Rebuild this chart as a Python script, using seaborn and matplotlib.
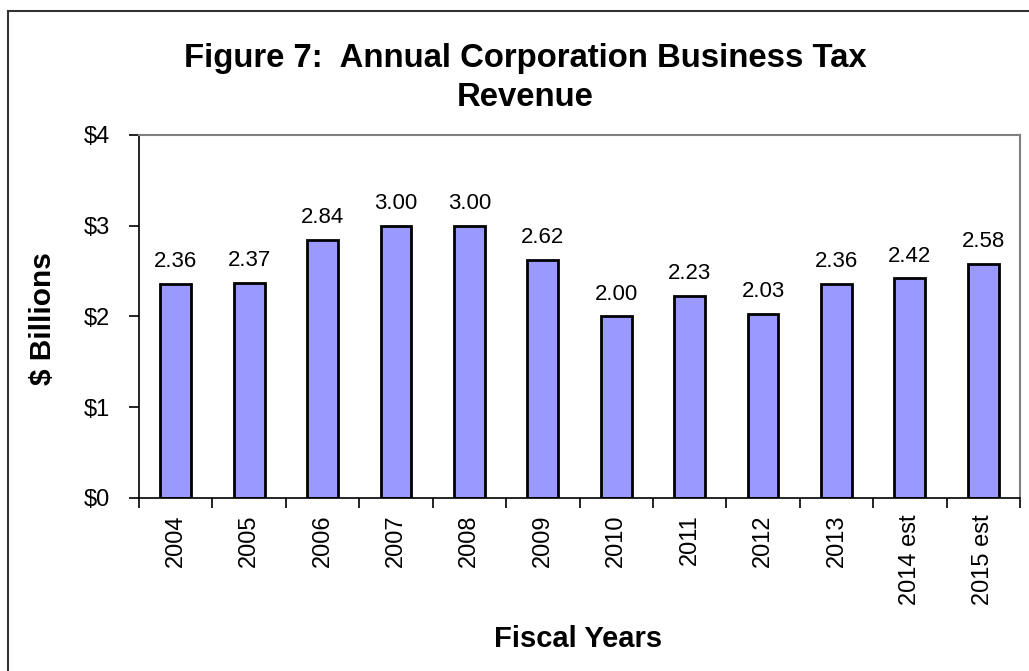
import matplotlib
matplotlib.use("Agg")
import matplotlib.pyplot as plt
from matplotlib.patches import Rectangle
from matplotlib.ticker import FixedLocator
import pandas as pd
import seaborn as sns

years = ["2004", "2005", "2006", "2007", "2008", "2009", "2010",
         "2011", "2012", "2013", "2014 est", "2015 est"]
revenue = [2.36, 2.37, 2.84, 3.00, 3.00, 2.62, 2.00, 2.23, 2.03, 2.36, 2.42, 2.58]
y_ticks = [0, 1, 2, 3, 4]
y_tick_labels = ["$0", "$1", "$2", "$3", "$4"]

sns.set_theme(style="white")
plt.rcParams["font.family"] = ["Liberation Sans", "DejaVu Sans"]
plt.rcParams.update({"text.color": "black", "axes.labelcolor": "black",
                     "xtick.color": "black", "ytick.color": "black"})

df = pd.DataFrame({"year": years, "revenue": revenue})

W, H = 1029, 671
fig = plt.figure(figsize=(W / 100, H / 100), dpi=100)
fig.patch.set_facecolor("white")
ax = fig.add_axes([139 / W, 1 - 498 / H, (1020 - 139) / W, (498 - 135) / H])

sns.barplot(data=df, x="year", y="revenue", color="#9999FF", saturation=1,
            edgecolor="black", linewidth=2, width=0.42, ax=ax)

for bar, v in zip(ax.patches, revenue):
    ax.annotate(f"{v:.2f}", (bar.get_x() + bar.get_width() / 2, v),
                xytext=(0, 8.5), textcoords="offset points",
                ha="center", va="bottom", fontsize=16, color="black")

ax.set_ylim(0, 4)
ax.set_xlim(-0.5, len(years) - 0.5)
ax.set_yticks(y_ticks)
ax.set_yticklabels(y_tick_labels, fontsize=17)
ax.set_xticks(range(len(years)))
ax.set_xticklabels(years, rotation=90, fontsize=17)
ax.xaxis.set_minor_locator(FixedLocator([i - 0.5 for i in range(len(years) + 1)]))
ax.tick_params(axis="x", which="major", length=0, pad=12, colors="black")
ax.tick_params(axis="x", which="minor", length=7, width=1.2, color="black",
               direction="out", bottom=True)
ax.tick_params(axis="y", which="major", length=7, width=1.2, color="black",
               direction="out", left=True, pad=14, labelcolor="black")

ax.set_xlabel("")
ax.set_ylabel("")
for side in ("left", "bottom"):
    ax.spines[side].set_color("black")
    ax.spines[side].set_linewidth(1.2)
for side in ("top", "right"):
    ax.spines[side].set_color("#808080")
    ax.spines[side].set_linewidth(1.5)
ax.grid(False)

fig.text(525 / W, 1 - 58 / H, "Figure 7:  Annual Corporation Business Tax",
         ha="center", va="center", fontsize=23.7, fontweight="bold")
fig.text(525 / W, 1 - 97 / H, "Revenue",
         ha="center", va="center", fontsize=23.7, fontweight="bold")
fig.text(43 / W, 1 - 319 / H, "$ Billions", rotation=90,
         ha="center", va="center", fontsize=21.5, fontweight="bold")
fig.text(578 / W, 1 - 639 / H, "Fiscal Years",
         ha="center", va="center", fontsize=21, fontweight="bold")

fig.add_artist(Rectangle((8 / W, -0.1), 1.2, 1.1 - 11 / H,
                         transform=fig.transFigure, fill=False,
                         edgecolor="#333333", linewidth=1.5))

fig.savefig("out.png", dpi=100, facecolor="white")
